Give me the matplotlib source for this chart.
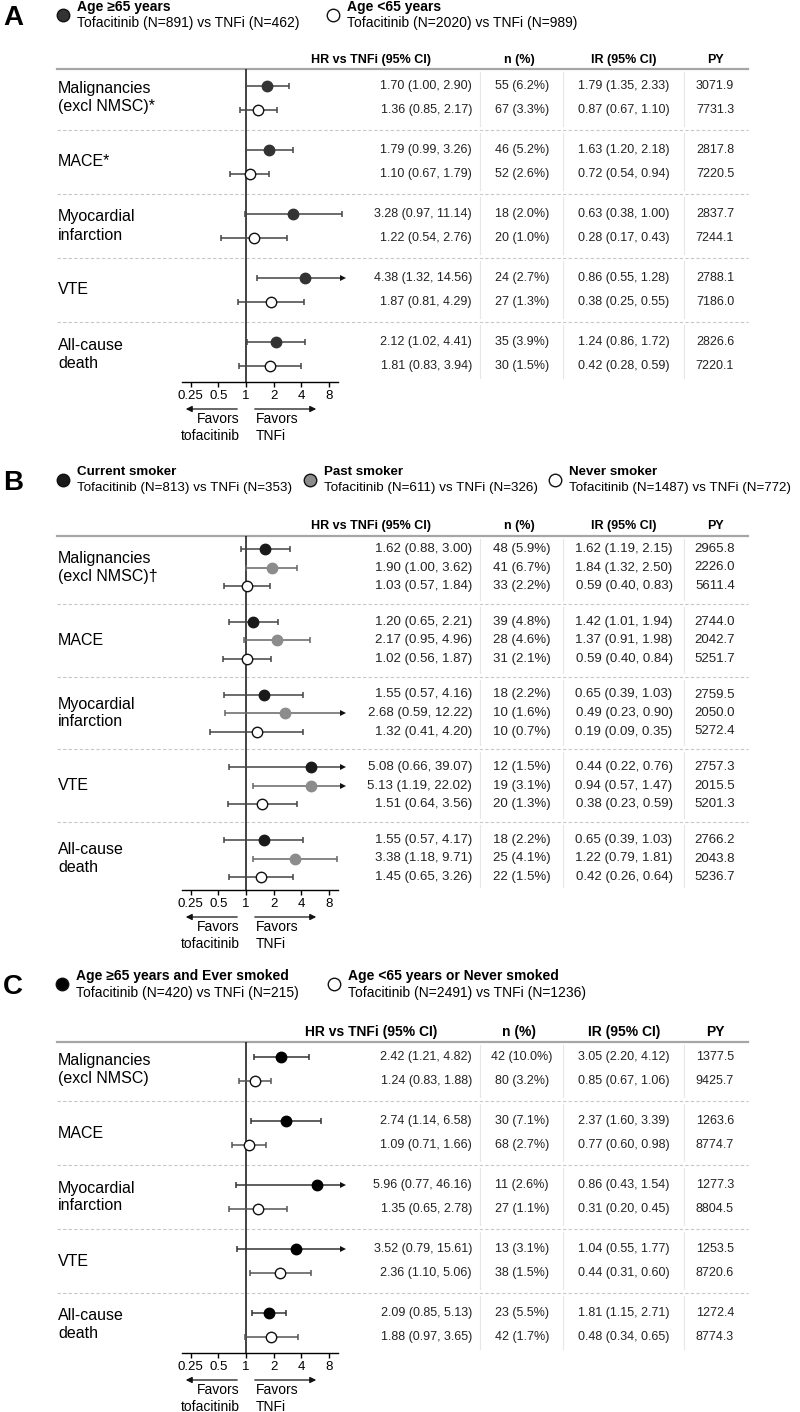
import numpy as np
import matplotlib.pyplot as plt

plt.rcParams['font.family'] = ['Liberation Sans', 'DejaVu Sans']

W, H = 800, 1412

# ---------------- Panel A: by age ----------------
a_groups = ['Malignancies\n(excl NMSC)*', 'MACE*', 'Myocardial\ninfarction', 'VTE', 'All-cause\ndeath']

a_old_hr = [1.70, 1.79, 3.28, 4.38, 2.12]
a_old_lo = [1.00, 0.99, 0.97, 1.32, 1.02]
a_old_hi = [2.90, 3.26, 11.14, 14.56, 4.41]
a_old_n = ['55 (6.2%)', '46 (5.2%)', '18 (2.0%)', '24 (2.7%)', '35 (3.9%)']
a_old_ir = ['1.79 (1.35, 2.33)', '1.63 (1.20, 2.18)', '0.63 (0.38, 1.00)', '0.86 (0.55, 1.28)', '1.24 (0.86, 1.72)']
a_old_py = ['3071.9', '2817.8', '2837.7', '2788.1', '2826.6']

a_young_hr = [1.36, 1.10, 1.22, 1.87, 1.81]
a_young_lo = [0.85, 0.67, 0.54, 0.81, 0.83]
a_young_hi = [2.17, 1.79, 2.76, 4.29, 3.94]
a_young_n = ['67 (3.3%)', '52 (2.6%)', '20 (1.0%)', '27 (1.3%)', '30 (1.5%)']
a_young_ir = ['0.87 (0.67, 1.10)', '0.72 (0.54, 0.94)', '0.28 (0.17, 0.43)', '0.38 (0.25, 0.55)', '0.42 (0.28, 0.59)']
a_young_py = ['7731.3', '7220.5', '7244.1', '7186.0', '7220.1']

# ---------------- Panel B: by smoking ----------------
b_groups = ['Malignancies\n(excl NMSC)\u2020', 'MACE', 'Myocardial\ninfarction', 'VTE', 'All-cause\ndeath']

b_cur_hr = [1.62, 1.20, 1.55, 5.08, 1.55]
b_cur_lo = [0.88, 0.65, 0.57, 0.66, 0.57]
b_cur_hi = [3.00, 2.21, 4.16, 39.07, 4.17]
b_cur_n = ['48 (5.9%)', '39 (4.8%)', '18 (2.2%)', '12 (1.5%)', '18 (2.2%)']
b_cur_ir = ['1.62 (1.19, 2.15)', '1.42 (1.01, 1.94)', '0.65 (0.39, 1.03)', '0.44 (0.22, 0.76)', '0.65 (0.39, 1.03)']
b_cur_py = ['2965.8', '2744.0', '2759.5', '2757.3', '2766.2']

b_past_hr = [1.90, 2.17, 2.68, 5.13, 3.38]
b_past_lo = [1.00, 0.95, 0.59, 1.19, 1.18]
b_past_hi = [3.62, 4.96, 12.22, 22.02, 9.71]
b_past_n = ['41 (6.7%)', '28 (4.6%)', '10 (1.6%)', '19 (3.1%)', '25 (4.1%)']
b_past_ir = ['1.84 (1.32, 2.50)', '1.37 (0.91, 1.98)', '0.49 (0.23, 0.90)', '0.94 (0.57, 1.47)', '1.22 (0.79, 1.81)']
b_past_py = ['2226.0', '2042.7', '2050.0', '2015.5', '2043.8']

b_never_hr = [1.03, 1.02, 1.32, 1.51, 1.45]
b_never_lo = [0.57, 0.56, 0.41, 0.64, 0.65]
b_never_hi = [1.84, 1.87, 4.20, 3.56, 3.26]
b_never_n = ['33 (2.2%)', '31 (2.1%)', '10 (0.7%)', '20 (1.3%)', '22 (1.5%)']
b_never_ir = ['0.59 (0.40, 0.83)', '0.59 (0.40, 0.84)', '0.19 (0.09, 0.35)', '0.38 (0.23, 0.59)', '0.42 (0.26, 0.64)']
b_never_py = ['5611.4', '5251.7', '5272.4', '5201.3', '5236.7']

# ---------------- Panel C: age x smoking ----------------
c_groups = ['Malignancies\n(excl NMSC)', 'MACE', 'Myocardial\ninfarction', 'VTE', 'All-cause\ndeath']

c_ever_hr = [2.42, 2.74, 5.96, 3.52, 2.09]
c_ever_lo = [1.21, 1.14, 0.77, 0.79, 0.85]
c_ever_hi = [4.82, 6.58, 46.16, 15.61, 5.13]
c_ever_n = ['42 (10.0%)', '30 (7.1%)', '11 (2.6%)', '13 (3.1%)', '23 (5.5%)']
c_ever_ir = ['3.05 (2.20, 4.12)', '2.37 (1.60, 3.39)', '0.86 (0.43, 1.54)', '1.04 (0.55, 1.77)', '1.81 (1.15, 2.71)']
c_ever_py = ['1377.5', '1263.6', '1277.3', '1253.5', '1272.4']
# the drawn all-cause point in the original sits at ~1.78 (1.16, 2.72), not at the printed value
c_ever_plot_hr = [2.42, 2.74, 5.96, 3.52, 1.78]
c_ever_plot_lo = [1.21, 1.14, 0.77, 0.79, 1.16]
c_ever_plot_hi = [4.82, 6.58, 46.16, 15.61, 2.72]

c_other_hr = [1.24, 1.09, 1.35, 2.36, 1.88]
c_other_lo = [0.83, 0.71, 0.65, 1.10, 0.97]
c_other_hi = [1.88, 1.66, 2.78, 5.06, 3.65]
c_other_n = ['80 (3.2%)', '68 (2.7%)', '27 (1.1%)', '38 (1.5%)', '42 (1.7%)']
c_other_ir = ['0.85 (0.67, 1.06)', '0.77 (0.60, 0.98)', '0.31 (0.20, 0.45)', '0.44 (0.31, 0.60)', '0.48 (0.34, 0.65)']
c_other_py = ['9425.7', '8774.7', '8804.5', '8720.6', '8774.3']

xticks = [0.25, 0.5, 1, 2, 4, 8]
xtick_labels = ['0.25', '0.5', '1', '2', '4', '8']

# layout (pixels)
X_REF = 246          # pixel of HR = 1
PX_PER_DOUBLING = 27.7
X_LEFT, X_RIGHT = 182, 352
XCLIP = 2 ** 3.5     # where CIs are cut and drawn as arrows
COL_HR, COL_N, COL_IR, COL_PY = 472, 522, 624, 715
COL_SEPS = [480, 563, 684]
TABLE_L, TABLE_R = 57, 748


def px(x0, y0, x1, y1):
    return [x0 / W, 1 - y1 / H, (x1 - x0) / W, (y1 - y0) / H]


fig = plt.figure(figsize=(W / 100, H / 100), dpi=100)
bg = fig.add_axes([0, 0, 1, 1])
bg.set_xlim(0, W)
bg.set_ylim(H, 0)
bg.axis('off')


def draw_panel(letter, legend, leg_y, header_y, line_y, first, pitch, step,
               axis_y, groups, series, fs=9, hdr_fs=9, leg_fs=10):
    # panel letter + legend
    bg.text(3, leg_y + 11, letter, fontsize=20, fontweight='bold', va='center', ha='left')
    for lx, title, sub, face in legend:
        bg.plot(lx, leg_y + 8, 'o', ms=9, mfc=face, mec='#111111', mew=1)
        bg.text(lx + 14, leg_y, title, fontsize=leg_fs, fontweight='bold', va='center')
        bg.text(lx + 14, leg_y + 16.5, sub, fontsize=leg_fs, va='center')

    # header
    bg.text(371, header_y, 'HR vs TNFi (95% CI)', fontsize=hdr_fs, fontweight='bold', ha='center', va='center')
    bg.text(519, header_y, 'n (%)', fontsize=hdr_fs, fontweight='bold', ha='center', va='center')
    bg.text(COL_IR, header_y, 'IR (95% CI)', fontsize=hdr_fs, fontweight='bold', ha='center', va='center')
    bg.text(COL_PY, header_y, 'PY', fontsize=hdr_fs, fontweight='bold', ha='center', va='center')
    bg.plot([TABLE_L, TABLE_R], [line_y, line_y], color='#a6a6a6', lw=1.6)

    ns = len(series)
    ng = len(groups)
    rows = [[first + pitch * g + step * k for k in range(ns)] for g in range(ng)]
    gap = (pitch - (ns - 1) * step) / 2
    seps = [rows[g][-1] + gap for g in range(ng - 1)]
    tops = [line_y] + seps
    bottoms = seps + [rows[-1][-1] + gap - 4]

    for g in range(ng):
        bg.text(58, np.mean(rows[g]), groups[g], fontsize=11.5, va='center', ha='left', linespacing=1.25)
        for cx in COL_SEPS:
            bg.plot([cx, cx], [tops[g] + 3, bottoms[g] - 4], color='#e6e6e6', lw=0.8)
    for s in seps:
        bg.plot([TABLE_L, TABLE_R], [s, s], color='#c8c8c8', lw=0.8, ls=(0, (3, 2)))

    # forest axes, y in pixel units so it lines up with the table
    fax = fig.add_axes(px(X_LEFT, line_y, X_RIGHT, axis_y))
    fax.set_xscale('log', base=2)
    fax.set_xlim(2 ** (-(X_REF - X_LEFT) / PX_PER_DOUBLING), 2 ** ((X_RIGHT - X_REF) / PX_PER_DOUBLING))
    fax.set_ylim(axis_y, line_y)
    fax.patch.set_alpha(0)
    for sp in ['top', 'right', 'left']:
        fax.spines[sp].set_visible(False)
    fax.spines['bottom'].set_bounds(0.2, 10)
    fax.spines['bottom'].set_linewidth(1)
    fax.set_xticks(xticks)
    fax.set_xticklabels(xtick_labels)
    fax.xaxis.set_minor_locator(plt.NullLocator())
    fax.tick_params(axis='x', length=3.5, width=1, pad=2, labelsize=9.5)
    fax.set_yticks([])
    fax.axvline(1, color='#111111', lw=1.1, zorder=1)

    for k, (hr, lo, hi, n, ir, py, face, lc, ptxt) in enumerate(series):
        for g in range(ng):
            y = rows[g][k]
            if hi[g] > XCLIP:
                fax.hlines(y, lo[g], XCLIP, color=lc, lw=1.1, zorder=2)
                fax.plot(lo[g], y, marker='|', ms=5, color=lc, mew=1.1, zorder=2)
                fax.plot(XCLIP, y, marker='>', ms=4.5, color='#111111', mew=0, zorder=2)
            else:
                fax.errorbar(hr[g], y, xerr=[[hr[g] - lo[g]], [hi[g] - hr[g]]], fmt='none',
                             ecolor=lc, elinewidth=1.1, capsize=2.5, capthick=1.1, zorder=2)
            fax.plot(hr[g], y, 'o', ms=7.5, mfc=face, mec='#111111' if face == 'white' else face,
                     mew=1, zorder=3)
            bg.text(COL_HR, y, ptxt[g], fontsize=fs, ha='right', va='center', color='#222222')
            bg.text(COL_N, y, n[g], fontsize=fs, ha='center', va='center', color='#222222')
            bg.text(COL_IR, y, ir[g], fontsize=fs, ha='center', va='center', color='#222222')
            bg.text(COL_PY, y, py[g], fontsize=fs, ha='center', va='center', color='#222222')

    # favors arrows and labels
    ay = axis_y + 27
    bg.annotate('', xy=(183, ay), xytext=(240, ay),
                arrowprops=dict(arrowstyle='-|>', color='#111111', lw=0.9, mutation_scale=9))
    bg.annotate('', xy=(319, ay), xytext=(252, ay),
                arrowprops=dict(arrowstyle='-|>', color='#111111', lw=0.9, mutation_scale=9))
    bg.text(240, axis_y + 37, 'Favors', fontsize=10, ha='right', va='center')
    bg.text(240, axis_y + 54, 'tofacitinib', fontsize=10, ha='right', va='center')
    bg.text(256, axis_y + 37, 'Favors', fontsize=10, ha='left', va='center')
    bg.text(256, axis_y + 54, 'TNFi', fontsize=10, ha='left', va='center')


def fmt(hr, lo, hi):
    return [f'{h:.2f} ({l:.2f}, {u:.2f})' for h, l, u in zip(hr, lo, hi)]


draw_panel('A',
           [(63, 'Age \u226565 years', 'Tofacitinib (N=891) vs TNFi (N=462)', '#333333'),
            (333, 'Age <65 years', 'Tofacitinib (N=2020) vs TNFi (N=989)', 'white')],
           leg_y=7, header_y=60, line_y=69, first=86, pitch=64, step=24, axis_y=382,
           groups=a_groups,
           series=[(a_old_hr, a_old_lo, a_old_hi, a_old_n, a_old_ir, a_old_py, '#333333', '#444444',
                    fmt(a_old_hr, a_old_lo, a_old_hi)),
                   (a_young_hr, a_young_lo, a_young_hi, a_young_n, a_young_ir, a_young_py, 'white', '#444444',
                    fmt(a_young_hr, a_young_lo, a_young_hi))])

draw_panel('B',
           [(63, 'Current smoker', 'Tofacitinib (N=813) vs TNFi (N=353)', '#1a1a1a'),
            (310, 'Past smoker', 'Tofacitinib (N=611) vs TNFi (N=326)', '#8c8c8c'),
            (555, 'Never smoker', 'Tofacitinib (N=1487) vs TNFi (N=772)', 'white')],
           leg_y=472, header_y=526, line_y=536, first=549, pitch=72.75, step=18.5, axis_y=890,
           groups=b_groups,
           series=[(b_cur_hr, b_cur_lo, b_cur_hi, b_cur_n, b_cur_ir, b_cur_py, '#1a1a1a', '#444444',
                    fmt(b_cur_hr, b_cur_lo, b_cur_hi)),
                   (b_past_hr, b_past_lo, b_past_hi, b_past_n, b_past_ir, b_past_py, '#8c8c8c', '#666666',
                    fmt(b_past_hr, b_past_lo, b_past_hi)),
                   (b_never_hr, b_never_lo, b_never_hi, b_never_n, b_never_ir, b_never_py, 'white', '#444444',
                    fmt(b_never_hr, b_never_lo, b_never_hi))],
           fs=9.5, leg_fs=9.6)

draw_panel('C',
           [(62, 'Age \u226565 years and Ever smoked', 'Tofacitinib (N=420) vs TNFi (N=215)', 'black'),
            (334, 'Age <65 years or Never smoked', 'Tofacitinib (N=2491) vs TNFi (N=1236)', 'white')],
           leg_y=976, header_y=1032, line_y=1042, first=1057, pitch=64, step=24, axis_y=1353,
           groups=c_groups,
           series=[(c_ever_plot_hr, c_ever_plot_lo, c_ever_plot_hi, c_ever_n, c_ever_ir, c_ever_py, 'black', '#333333',
                    fmt(c_ever_hr, c_ever_lo, c_ever_hi)),
                   (c_other_hr, c_other_lo, c_other_hi, c_other_n, c_other_ir, c_other_py, 'white', '#555555',
                    fmt(c_other_hr, c_other_lo, c_other_hi))],
           hdr_fs=10)

fig.savefig('out.png', dpi=100)
